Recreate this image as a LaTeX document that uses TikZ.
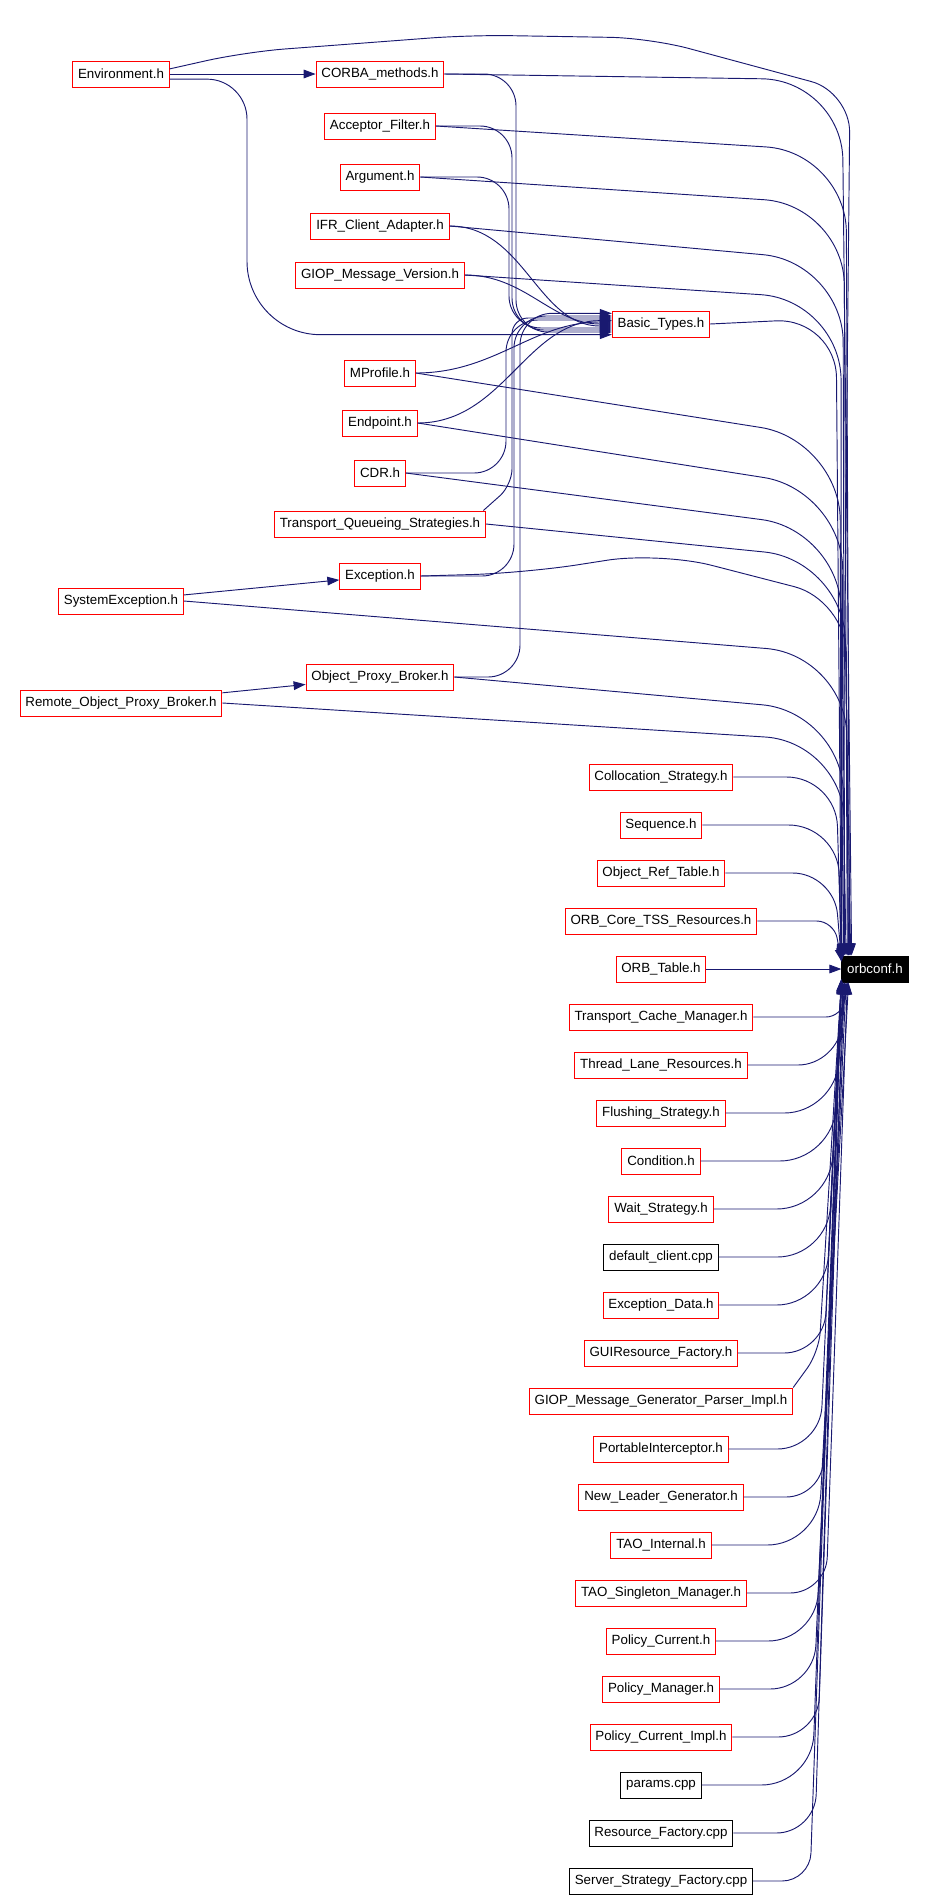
\documentclass[tikz,border=0pt]{standalone}
\usepackage{fontspec}
\setmainfont{Liberation Sans}
\usetikzlibrary{arrows.meta}

\definecolor{depblue}{HTML}{191970}
\tikzset{
  hfile/.style={draw=red, line width=0.75pt, inner xsep=4pt, inner ysep=0pt, minimum height=19.5pt},
  cppfile/.style={hfile, draw=black},
  rootfile/.style={hfile, draw=black, fill=black, text=white},
  dep/.style={draw=depblue, line width=0.7pt, -{Triangle[length=9pt,width=6.5pt]}}
}

\begin{document}
\begin{tikzpicture}[x=0.75pt, y=0.75pt]
\useasboundingbox (0,0) rectangle (927,-1899);

\node[hfile] (env) at (121,-74) {Environment.h};
\node[hfile] (corba) at (380,-74) {CORBA\_methods.h};
\node[hfile] (acceptor) at (380,-126) {Acceptor\_Filter.h};
\node[hfile] (argument) at (380,-177) {Argument.h};
\node[hfile] (ifr) at (380,-226) {IFR\_Client\_Adapter.h};
\node[hfile] (giopver) at (380,-275) {GIOP\_Message\_Version.h};
\node[hfile] (basic) at (661,-324) {Basic\_Types.h};
\node[hfile] (mprofile) at (380,-373) {MProfile.h};
\node[hfile] (endpoint) at (380,-423) {Endpoint.h};
\node[hfile] (cdr) at (380,-473) {CDR.h};
\node[hfile] (tqs) at (380,-524) {Transport\_Queueing\_Strategies.h};
\node[hfile] (exc) at (380,-576) {Exception.h};
\node[hfile] (sysexc) at (121,-601) {SystemException.h};
\node[hfile] (opb) at (380,-677) {Object\_Proxy\_Broker.h};
\node[hfile] (ropb) at (121,-703) {Remote\_Object\_Proxy\_Broker.h};

\foreach \nm/\txt/\row/\sty in {colloc/Collocation\_Strategy.h/0/hfile, seq/Sequence.h/1/hfile,
    objref/Object\_Ref\_Table.h/2/hfile, tss/ORB\_Core\_TSS\_Resources.h/3/hfile,
    orbtable/ORB\_Table.h/4/hfile, tcm/Transport\_Cache\_Manager.h/5/hfile,
    tlr/Thread\_Lane\_Resources.h/6/hfile, flush/Flushing\_Strategy.h/7/hfile,
    cond/Condition.h/8/hfile, wait/Wait\_Strategy.h/9/hfile,
    defclient/default\_client.cpp/10/cppfile, excdata/Exception\_Data.h/11/hfile,
    guires/GUIResource\_Factory.h/12/hfile, giopgen/GIOP\_Message\_Generator\_Parser\_Impl.h/13/hfile,
    pi/PortableInterceptor.h/14/hfile, newleader/New\_Leader\_Generator.h/15/hfile,
    taoint/TAO\_Internal.h/16/hfile, taosing/TAO\_Singleton\_Manager.h/17/hfile,
    polcur/Policy\_Current.h/18/hfile, polman/Policy\_Manager.h/19/hfile,
    polimpl/Policy\_Current\_Impl.h/20/hfile, params/params.cpp/21/cppfile,
    resfac/Resource\_Factory.cpp/22/cppfile, ssf/Server\_Strategy\_Factory.cpp/23/cppfile}
  \node[\sty] (\nm) at (661,{-777-48*\row}) {\txt};

\node[rootfile] (orbconf) at (875,-969) {orbconf.h};

\draw[dep] (env) -- (corba);
\draw[dep] (sysexc) -- (exc);
\draw[dep] (ropb) -- (opb);

% into Basic_Types.h
\draw[dep, rounded corners=30pt] (env.-6) -| (247,-200) [rounded corners=55pt] |- ([yshift=-8pt]basic.west);
\begin{scope}[rounded corners=24pt]
\draw[dep] (corba.east) -| (516,-200) |- ([yshift=-6pt]basic.west);
\draw[dep] (acceptor.east) -| (512,-220) |- ([yshift=-4.5pt]basic.west);
\draw[dep] (argument.east) -| (509,-250) |- ([yshift=-3pt]basic.west);
\draw[dep] (cdr.east) -| (506,-400) |- ([yshift=3pt]basic.west);
\draw[dep] (exc.east) -| (514,-450) |- ([yshift=6pt]basic.west);
\draw[dep] (opb.east) -| (520,-500) |- ([yshift=8pt]basic.west);
\draw[dep, rounded corners=12pt] ([xshift=-2pt]tqs.north east) -- (512,-485) |- ([yshift=4.5pt]basic.west);
\end{scope}
\draw[dep] (ifr.east) to[out=0,in=180] ([yshift=-1.5pt]basic.west);
\draw[dep] (giopver.east) to[out=0,in=180] (basic.west);
\draw[dep] (mprofile.east) to[out=0,in=180] ([yshift=1.5pt]basic.west);
\draw[dep] (endpoint.east) to[out=0,in=180] ([yshift=2.5pt]basic.west);

% into orbconf.h from above
\draw[dep, rounded corners=30pt] (env.6) -- (245,-52) -- (470,-35) -- (650,-38) -- (850,-92) -- (orbconf.168);
\draw[dep, rounded corners=40pt] (exc.east) -- (525,-573) -- (660,-552) -- (846,-600) -- (orbconf.153);
\foreach \s/\cx/\cy/\a/\r in {corba/842/80/150/60pt, acceptor/846/152/152/60pt,
    argument/844/205/154/60pt, ifr/843/262/156/60pt, giopver/841/300/158/60pt,
    mprofile/840/440/160/60pt, endpoint/843/490/162/60pt, cdr/841/530/164/60pt,
    tqs/844/560/151/60pt, sysexc/846/655/153/60pt, opb/842/712/155/60pt,
    ropb/845/742/157/60pt, basic/836/318/159/45pt, colloc/836/777/161/37pt,
    seq/838/825/163/37pt, objref/834/873/165/31pt, tss/834/921/167/13pt}
  \draw[dep, rounded corners=\r] (\s.east) -- (\cx,-\cy) -- (orbconf.\a);

\draw[dep] (orbtable) -- (orbconf);

% into orbconf.h from below
\draw[dep, rounded corners=15pt] (giopgen.north east) -- (819,-1352) -- (orbconf.198);
\foreach \s/\cx/\a/\r in {tcm/842/206/12pt, tlr/838/205/30pt, flush/835/204/38pt,
    cond/833/203/40pt, wait/830/202/40pt, defclient/828/201/38pt, excdata/826/200/37pt,
    guires/824/199/30pt, pi/820/197/32pt, newleader/822/196/27pt, taoint/818/207/38pt,
    taosing/826/206/27pt, polcur/816/205/36pt, polman/814/204/33pt, polimpl/818/203/30pt,
    params/812/202/38pt, resfac/815/201/29pt, ssf/810/200/21pt}
  \draw[dep, rounded corners=\r] (\s.east) -- (\s.east -| \cx,0) -- (orbconf.\a);
\end{tikzpicture}
\end{document}
